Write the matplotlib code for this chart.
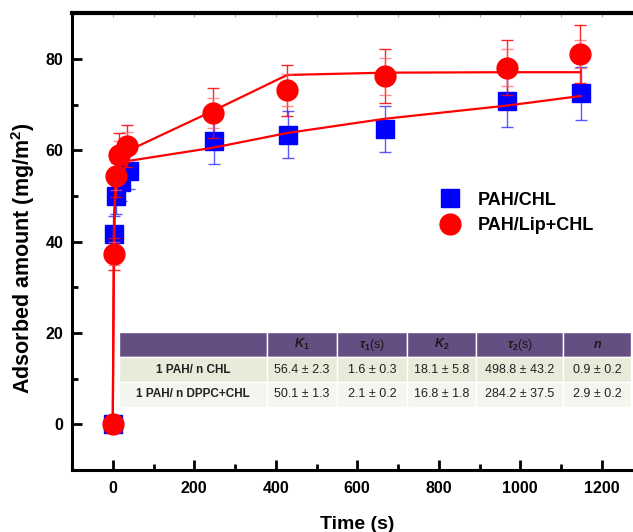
import matplotlib
matplotlib.use("Agg")
import matplotlib.pyplot as plt
from matplotlib.ticker import MultipleLocator

# measured adsorption, PAH/CHL
chl_t = [0, 3, 7, 20, 40, 248, 429, 667, 968, 1149]
chl_v = [0, 41.6, 50.1, 53.0, 55.5, 62.0, 63.4, 64.7, 70.7, 72.5]
chl_err = [0, 4.0, 4.0, 4.0, 4.0, 4.9, 5.1, 5.1, 5.6, 5.8]

# measured adsorption, PAH/Lip+CHL
lip_t = [0, 3, 7, 16, 35, 245, 428, 667, 968, 1147]
lip_v = [0, 37.4, 54.3, 59.0, 60.9, 68.2, 73.1, 76.2, 78.1, 81.1]
lip_err_out = [0, 3.5, 4.5, 4.8, 4.6, 5.5, 5.5, 5.9, 6.0, 6.4]
lip_err_in = [0, 2.5, 3.0, 3.0, 3.2, 3.3, 3.5, 4.0, 4.1, 3.0]

# fitted curves
fit_chl_t = [0, 3, 7, 40, 248, 429, 667, 968, 1149]
fit_chl_v = [0, 45.0, 53.0, 57.7, 60.6, 63.8, 66.9, 69.8, 71.9]
fit_lip_t = [0, 3, 7, 16, 35, 245, 428, 667, 968, 1147]
fit_lip_v = [0, 37.4, 54.5, 58.5, 59.8, 68.6, 76.5, 77.0, 77.1, 77.1]

# fit parameter table
col_labels = ["", "$K_1$", r"$\tau_1$(s)", "$K_2$", r"$\tau_2$(s)", "$n$"]
row_labels = ["1 PAH/ n CHL", "1 PAH/ n DPPC+CHL"]
cells = [["56.4 \u00b1 2.3", "1.6 \u00b1 0.3", "18.1 \u00b1 5.8",
          "498.8 \u00b1 43.2", "0.9 \u00b1 0.2"],
         ["50.1 \u00b1 1.3", "2.1 \u00b1 0.2", "16.8 \u00b1 1.8",
          "284.2 \u00b1 37.5", "2.9 \u00b1 0.2"]]


def main():
    plt.rcParams['font.family'] = "sans-serif"
    plt.rcParams['font.sans-serif'] = ["Liberation Sans", "DejaVu Sans"]
    plt.rcParams['mathtext.fontset'] = "custom"
    plt.rcParams['mathtext.it'] = "Liberation Sans:italic:bold"
    plt.rcParams['mathtext.rm'] = "Liberation Sans:bold"
    plt.rcParams['mathtext.bf'] = "Liberation Sans:bold"

    fig = plt.figure(figsize=(6.33, 5.32), dpi=100)
    ax = fig.add_axes([72 / 633, 1 - 470 / 532, 570.5 / 633, 456.7 / 532])

    ax.errorbar(chl_t, chl_v, yerr=chl_err, fmt="none", ecolor="#3030ff",
                elinewidth=1, capsize=4.5, capthick=1, alpha=0.8, zorder=2)
    ax.plot(chl_t, chl_v, ls="none", marker="s", ms=13.5, color="#0000ff",
            mec="#0000ff", zorder=3, label="PAH/CHL")

    ax.plot(fit_chl_t, fit_chl_v, color="#ff0000", lw=1.6, zorder=4)
    ax.plot(fit_lip_t, fit_lip_v, color="#ff0000", lw=1.6, zorder=4)

    ax.errorbar(lip_t, lip_v, yerr=lip_err_out, fmt="none", ecolor="#ff0000",
                elinewidth=1, capsize=4.5, capthick=1, alpha=0.85, zorder=5)
    ax.errorbar(lip_t, lip_v, yerr=lip_err_in, fmt="none", ecolor="#ff6060",
                elinewidth=1, capsize=4.5, capthick=1, alpha=0.7, zorder=5)
    ax.plot(lip_t, lip_v, ls="none", marker="o", ms=15, color="#ff0000",
            mec="#ff0000", zorder=6, label="PAH/Lip+CHL")

    ax.set_xlim(-100, 1300)
    ax.set_ylim(-10, 90)
    ax.xaxis.set_major_locator(MultipleLocator(200))
    ax.xaxis.set_minor_locator(MultipleLocator(100))
    ax.yaxis.set_major_locator(MultipleLocator(20))
    ax.yaxis.set_minor_locator(MultipleLocator(10))
    ax.tick_params(which="major", direction="in", length=7, width=2,
                   labelsize=11.5, pad=8)
    ax.tick_params(axis="y", which="major", pad=6)
    ax.tick_params(which="minor", direction="in", length=4, width=2)
    for lab in ax.get_xticklabels() + ax.get_yticklabels():
        lab.set_fontweight("bold")

    ax.spines["left"].set_linewidth(2.2)
    ax.spines["bottom"].set_linewidth(2.2)
    ax.spines["top"].set_linewidth(3)
    ax.spines["right"].set_visible(False)

    top = ax.secondary_xaxis("top")
    top.xaxis.set_major_locator(MultipleLocator(100))
    top.tick_params(direction="in", length=3, width=0.8, color="#aaaaaa",
                    labeltop=False)
    top.spines["top"].set_visible(False)

    ax.set_xlabel("Time (s)", fontsize=14, fontweight="bold", labelpad=14)
    ax.set_ylabel("Adsorbed amount (mg/m$^2$)", fontsize=15.5,
                  fontweight="bold")
    ax.yaxis.set_label_coords(-0.061, 0.464)

    ax.legend(loc="center left", bbox_to_anchor=(0.619, 0.563), frameon=False,
              handlelength=1.0, handletextpad=1.0, labelspacing=0.45,
              prop={"size": 13, "weight": "bold"}, numpoints=1)

    # parameter table
    text = [[row_labels[i]] + cells[i] for i in range(len(row_labels))]
    widths = [148, 70, 70, 69, 87, 68]
    tot = float(sum(widths))
    tab = ax.table(cellText=text, colLabels=col_labels,
                   colWidths=[w / tot for w in widths],
                   bbox=[0.0824, 0.138, 0.8976, 0.164], cellLoc="center")
    tab.auto_set_font_size(False)
    tab.set_zorder(1)
    header = "#644e82"
    body = ["#e6ecd9", "#f3f6ee"]
    for (r, cidx), cell in tab.get_celld().items():
        cell.set_edgecolor("white")
        cell.set_linewidth(1)
        if r == 0:
            cell.set_facecolor(header)
            cell.get_text().set_fontsize(9)
            cell.get_text().set_color("#1a1a1a")
        else:
            cell.set_facecolor(body[r - 1])
            if cidx == 0:
                cell.get_text().set_fontweight("bold")
                cell.get_text().set_fontsize(8.5)
            else:
                cell.get_text().set_fontsize(9)
            cell.get_text().set_color("#222222")

    fig.savefig("out.png", dpi=100)


if __name__ == "__main__":
    main()
